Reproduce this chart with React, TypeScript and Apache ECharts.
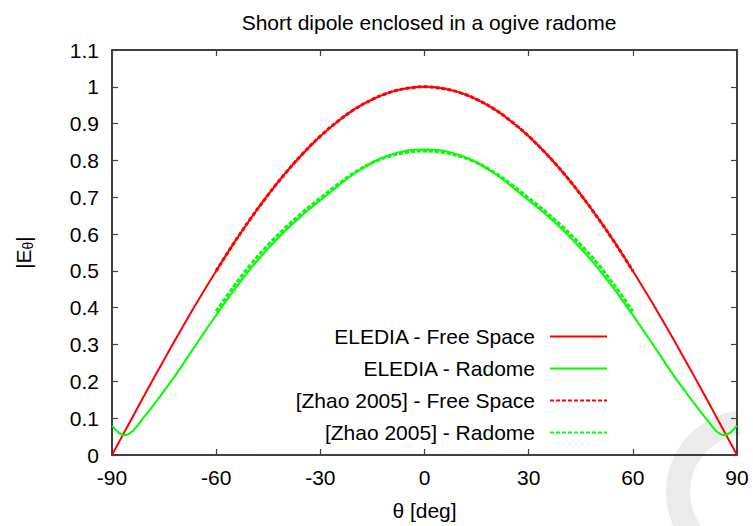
import React, { useEffect, useRef } from "react";
import * as echarts from "echarts";

const xTicks = [-90, -60, -30, 0, 30, 60, 90];
const yTickMax = 1.1;

const freeSpaceTheta = [-90, -85, -80, -75, -70, -65, -60, -55, -50, -45, -40, -35, -30, -25, -20, -15, -10, -5, 0, 5, 10, 15, 20, 25, 30, 35, 40, 45, 50, 55, 60, 65, 70, 75, 80, 85, 90];
const freeSpaceValues = [0, 0.087, 0.174, 0.259, 0.342, 0.423, 0.5, 0.574, 0.643, 0.707, 0.766, 0.819, 0.866, 0.906, 0.94, 0.966, 0.985, 0.996, 1.0, 0.996, 0.985, 0.966, 0.94, 0.906, 0.866, 0.819, 0.766, 0.707, 0.643, 0.574, 0.5, 0.423, 0.342, 0.259, 0.174, 0.087, 0];

const radomeTheta = [
  -90, -89, -88, -87, -86, -85, -84, -83, -82, -81, -80, -77.5, -75, -72.5, -70, -67.5, -65, -62.5, -60, -57.5, -55, -52.5, -50, -47.5, -45, -42.5, -40, -37.5, -35, -32.5, -30, -27.5, -25, -22.5, -20, -17.5, -15, -12.5, -10, -7.5, -5, -2.5,
  0, 2.5, 5, 7.5, 10, 12.5, 15, 17.5, 20, 22.5, 25, 27.5, 30, 32.5, 35, 37.5, 40, 42.5, 45, 47.5, 50, 52.5, 55, 57.5, 60, 62.5, 65, 67.5, 70, 72.5, 75, 77.5, 80, 81, 82, 83, 84, 85, 86, 87, 88, 89, 90,
];
const radomeValues = [
  0.08, 0.069, 0.06, 0.055, 0.054, 0.058, 0.065, 0.076, 0.088, 0.1, 0.112, 0.142, 0.174, 0.206, 0.24, 0.276, 0.311, 0.346, 0.38, 0.413, 0.446, 0.477, 0.507, 0.535, 0.561, 0.586, 0.61, 0.632, 0.653, 0.673, 0.692, 0.711, 0.73, 0.749, 0.766, 0.781, 0.795, 0.806, 0.815, 0.822, 0.827, 0.829,
  0.83, 0.829, 0.827, 0.822, 0.815, 0.806, 0.795, 0.781, 0.766, 0.749, 0.73, 0.711, 0.692, 0.673, 0.653, 0.632, 0.61, 0.586, 0.561, 0.535, 0.507, 0.477, 0.446, 0.413, 0.38, 0.346, 0.311, 0.276, 0.24, 0.206, 0.174, 0.142, 0.112, 0.1, 0.088, 0.076, 0.065, 0.058, 0.054, 0.055, 0.06, 0.069, 0.08,
];

const zhaoTheta = [-60, -55, -50, -45, -40, -35, -30, -25, -20, -15, -10, -5, 0, 5, 10, 15, 20, 25, 30, 35, 40, 45, 50, 55, 60];
const zhaoFreeValues = [0.5, 0.574, 0.643, 0.707, 0.766, 0.819, 0.866, 0.906, 0.94, 0.966, 0.985, 0.996, 1.0, 0.996, 0.985, 0.966, 0.94, 0.906, 0.866, 0.819, 0.766, 0.707, 0.643, 0.574, 0.5];
const zhaoRadomeValues = [0.39, 0.457, 0.518, 0.571, 0.618, 0.66, 0.698, 0.735, 0.768, 0.794, 0.812, 0.822, 0.826, 0.822, 0.812, 0.794, 0.768, 0.735, 0.698, 0.66, 0.618, 0.571, 0.518, 0.457, 0.39];

const seriesNames = ["ELEDIA - Free Space", "ELEDIA - Radome", "[Zhao 2005] - Free Space", "[Zhao 2005] - Radome"];

const FONT = "'Liberation Sans', Arial, Helvetica, sans-serif";

function pairs(xs: number[], ys: number[]) {
  return xs.map((x, i) => [x, ys[i]]);
}

export default function App() {
  const ref = useRef<HTMLDivElement>(null);
  useEffect(() => {
    if (!ref.current) return;
    const chart = echarts.init(ref.current, undefined, { renderer: "svg" });
    const axisCommon = {
      axisLine: { show: true, onZero: false, lineStyle: { color: "#000", width: 1.5 } },
      axisTick: { show: true, inside: true, length: 6, lineStyle: { color: "#444", width: 1.2 } },
      splitLine: { show: false },
    };
    const xBase = { type: "value", min: xTicks[0], max: xTicks[xTicks.length - 1], interval: 30 };
    const yBase = { type: "value", min: 0, max: yTickMax, interval: 0.1 };
    chart.setOption({
      animation: false,
      backgroundColor: "#fff",
      textStyle: { fontFamily: FONT },
      title: {
        text: "Short dipole enclosed in a ogive radome",
        left: 424,
        top: 7,
        textAlign: "center",
        textStyle: { fontFamily: FONT, fontSize: 21, fontWeight: "normal", color: "#000" },
      },
      grid: { left: 112, right: 16, top: 50, bottom: 71, containLabel: false },
      xAxis: [
        {
          ...xBase,
          ...axisCommon,
          position: "bottom",
          name: "θ [deg]",
          nameLocation: "middle",
          nameGap: 45,
          nameTextStyle: { fontFamily: FONT, fontSize: 21, color: "#000" },
          axisLabel: { fontFamily: FONT, fontSize: 21, color: "#000", margin: 12 },
        },
        {
          ...xBase,
          ...axisCommon,
          position: "top",
          axisLabel: { show: false },
        },
      ],
      yAxis: [
        {
          ...yBase,
          ...axisCommon,
          position: "left",
          name: "|E{s|θ}|",
          nameLocation: "middle",
          nameGap: 77,
          nameTextStyle: {
            fontFamily: FONT,
            fontSize: 21,
            color: "#000",
            rich: { s: { fontFamily: FONT, fontSize: 14, color: "#000", padding: [10, 0, 0, 0] } },
          },
          axisLabel: {
            fontFamily: FONT,
            fontSize: 21,
            color: "#000",
            margin: 13,
            formatter: (v: number) => String(Math.round(v * 10) / 10),
          },
        },
        {
          ...yBase,
          ...axisCommon,
          position: "right",
          axisLabel: { show: false },
        },
      ],
      legend: {
        data: seriesNames,
        orient: "vertical",
        align: "right",
        right: 140,
        top: 321,
        itemWidth: 57,
        itemHeight: 14,
        itemGap: 11,
        itemStyle: { opacity: 0 },
        textStyle: { fontFamily: FONT, fontSize: 21, color: "#000", padding: [0, 10, 0, 0] },
      },
      graphic: {
        elements: [
          {
            type: "sector",
            z: -10,
            silent: true,
            shape: { cx: 748, cy: 492, r0: 58, r: 82, startAngle: (95 * Math.PI) / 180, endAngle: (262 * Math.PI) / 180, clockwise: true },
            style: { fill: "#ebebeb" },
          },
        ],
      },
      series: [
        {
          name: seriesNames[0],
          type: "line",
          data: pairs(freeSpaceTheta, freeSpaceValues),
          smooth: 0.4,
          symbol: "none",
          lineStyle: { color: "#ff0000", width: 2 },
          itemStyle: { color: "#ff0000" },
          z: 3,
        },
        {
          name: seriesNames[1],
          type: "line",
          data: pairs(radomeTheta, radomeValues),
          smooth: false,
          symbol: "none",
          lineStyle: { color: "#00ff00", width: 2, join: "round" },
          itemStyle: { color: "#00ff00" },
          z: 3,
        },
        {
          name: seriesNames[2],
          type: "line",
          data: pairs(zhaoTheta, zhaoFreeValues),
          smooth: 0.4,
          symbol: "none",
          lineStyle: { color: "#ff0000", width: 3, type: [4, 2] },
          itemStyle: { color: "#ff0000" },
          z: 4,
        },
        {
          name: seriesNames[3],
          type: "line",
          data: pairs(zhaoTheta, zhaoRadomeValues),
          smooth: 0.4,
          symbol: "none",
          lineStyle: { color: "#00ff00", width: 3, type: [4, 2] },
          itemStyle: { color: "#00ff00" },
          z: 4,
        },
      ],
    });
    return () => chart.dispose();
  }, []);
  return <div ref={ref} style={{ width: 753, height: 526, position: "absolute", left: 0, top: 0 }} />;
}
